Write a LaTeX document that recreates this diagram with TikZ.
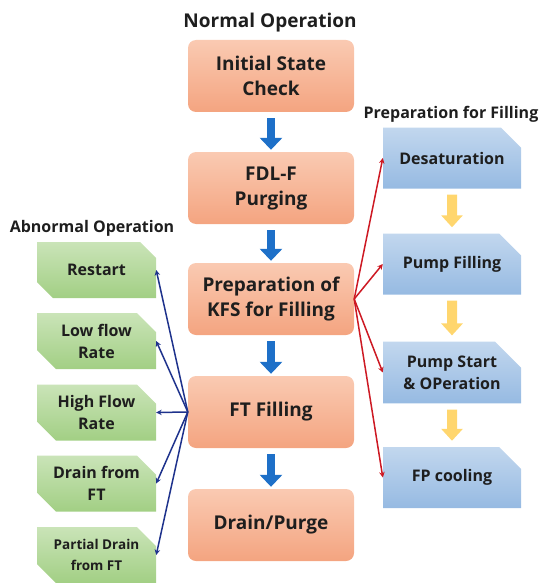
\documentclass[tikz,border=0pt]{standalone}
\usepackage{fontspec}
\setmainfont{Open Sans}
\usetikzlibrary{shapes.misc,arrows.meta}

\definecolor{orangetop}{RGB}{250,202,178}
\definecolor{orangebot}{RGB}{244,164,128}
\definecolor{greentop}{RGB}{202,228,184}
\definecolor{greenbot}{RGB}{162,207,132}
\definecolor{bluetop}{RGB}{194,215,238}
\definecolor{bluebot}{RGB}{150,186,226}
\definecolor{downblue}{RGB}{30,112,200}
\definecolor{downyellow}{RGB}{255,214,110}
\definecolor{linkred}{RGB}{205,25,35}
\definecolor{linknavy}{RGB}{30,50,140}
\definecolor{textgray}{RGB}{30,30,30}

\begin{document}
\begin{tikzpicture}[x=1pt,y=-1pt,
    normalbox/.style={rectangle, rounded corners=8pt, top color=orangetop, bottom color=orangebot,
        minimum width=166pt, minimum height=72pt, align=center, text=textgray,
        font=\bfseries\fontsize{19}{25}\selectfont},
    abnormalbox/.style={chamfered rectangle, chamfered rectangle corners={north east,south west},
        chamfered rectangle xsep=9pt, chamfered rectangle ysep=10pt,
        top color=greentop, bottom color=greenbot, minimum width=119pt, minimum height=56pt,
        inner sep=0pt, align=center, text=textgray, font=\bfseries\fontsize{16}{22}\selectfont},
    prepbox/.style={chamfered rectangle, chamfered rectangle corners=north east,
        chamfered rectangle xsep=12pt, chamfered rectangle ysep=14pt,
        top color=bluetop, bottom color=bluebot, minimum width=138pt, minimum height=61pt,
        inner sep=0pt, align=center, text=textgray, font=\bfseries\fontsize{16}{22}\selectfont},
    title/.style={anchor=base, text=textgray, font=\bfseries\fontsize{16}{20}\selectfont},
    downarrow/.style={downblue, line width=8pt, -{Triangle[length=12pt,width=22pt]},
        shorten <=6pt, shorten >=2pt},
    yellowarrow/.style={downyellow, line width=10pt, -{Triangle[length=12pt,width=21pt]},
        shorten <=6pt, shorten >=6pt},
    redlink/.style={linkred, line width=1.5pt, -{Stealth[length=5.5pt,width=5.5pt]}},
    navylink/.style={linknavy, line width=1.5pt, -{Stealth[length=5.5pt,width=5.5pt]}}]

    \useasboundingbox (0,0) rectangle (542,583);

    % titles
    \node[title, font=\bfseries\fontsize{19}{22}\selectfont] (normaltitle) at (270,28) {Normal Operation};
    \node[title] (abnormaltitle) at (92,232) {Abnormal Operation};
    \node[title] (preptitle) at (451,118) {Preparation for Filling};

    % normal operation
    \node[normalbox] (init) at (271,76) {Initial State\\Check};
    \node[normalbox] (purge) at (271,188) {FDL-F\\Purging};
    \node[normalbox] (kfs) at (271,299) {Preparation of\\KFS for Filling};
    \node[normalbox] (ftfill) at (271,412) {FT Filling};
    \node[normalbox] (drain) at (271,525) {Drain/Purge};

    % abnormal operation
    \node[abnormalbox] (restart) at (96.5,270) {Restart};
    \node[abnormalbox] (lowflow) at (96.5,341) {Low flow\\Rate};
    \node[abnormalbox] (highflow) at (96.5,412.5) {High Flow\\Rate};
    \node[abnormalbox] (drainft) at (96.5,483.5) {Drain from\\FT};
    \node[abnormalbox, font=\bfseries\fontsize{13.5}{21}\selectfont] (partial) at (96.5,555) {Partial Drain\\from FT};

    % preparation for filling
    \node[prepbox] (desat) at (452,158) {Desaturation};
    \node[prepbox] (pumpfill) at (452,264) {Pump Filling};
    \node[prepbox] (pumpstart) at (452,372.5) {Pump Start\\\& OPeration};
    \node[prepbox] (fpcool) at (452,477.5) {FP cooling};

    % normal sequence
    \draw[downarrow] (init) -- (purge);
    \draw[downarrow] (purge) -- (kfs);
    \draw[downarrow] (kfs) -- (ftfill);
    \draw[downarrow] (ftfill) -- (drain);

    % filling sequence
    \draw[yellowarrow] (desat) -- (pumpfill);
    \draw[yellowarrow] (pumpfill) -- (pumpstart);
    \draw[yellowarrow] (pumpstart) -- (fpcool);

    % preparation links
    \draw[redlink] (kfs.east) -- (desat.west);
    \draw[redlink] (kfs.east) -- (pumpfill.west);
    \draw[redlink] (kfs.east) -- (pumpstart.west);
    \draw[redlink] (kfs.east) -- (fpcool.west);

    % abnormal links
    \draw[navylink] (ftfill.west) -- (restart.east);
    \draw[navylink] (ftfill.west) -- (lowflow.east);
    \draw[navylink] (ftfill.west) -- (highflow.east);
    \draw[navylink] (ftfill.west) -- (drainft.east);
    \draw[navylink] (ftfill.west) -- (partial.east);
\end{tikzpicture}
\end{document}
